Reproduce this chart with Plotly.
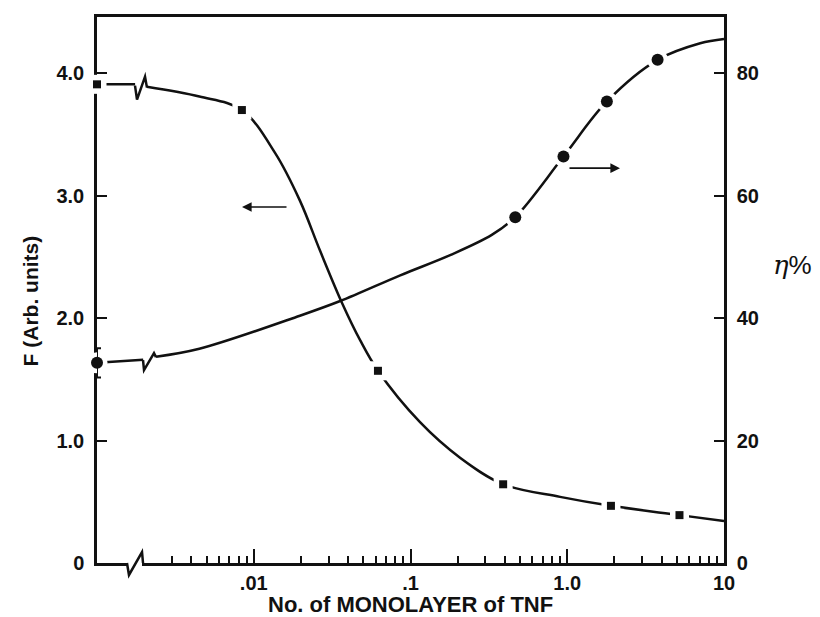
import plotly.graph_objects as go

# ---- data ----
# "0 monolayer" point is drawn at the broken origin of the log axis (0.001)
f_x = [0.001, 0.0084, 0.062, 0.39, 1.9, 5.2]
f_y = [3.91, 3.70, 1.57, 0.643, 0.467, 0.391]

eta_x = [0.001, 0.466, 0.946, 1.79, 3.77]
eta_y = [32.7, 56.5, 66.4, 75.4, 82.2]
eta_err = [2.4, 0, 0, 0, 0]

# hand-drawn guide curves as they appear in the figure
f_lead_x = [0.001, 0.00175]
f_lead_y = [3.91, 3.91]
f_curve_x = [0.00208, 0.0045, 0.0084, 0.01367, 0.0197, 0.0265, 0.0367, 0.0477, 0.062,
             0.115, 0.207, 0.39, 0.90, 1.9, 5.2, 10]
f_curve_y = [3.89, 3.81, 3.70, 3.35, 2.96, 2.55, 2.12, 1.82, 1.57,
             1.15, 0.86, 0.643, 0.54, 0.467, 0.391, 0.342]

eta_lead_x = [0.001, 0.00197]
eta_lead_y = [32.7, 33.2]
eta_curve_x = [0.00238, 0.0045, 0.0197, 0.0356, 0.086, 0.179, 0.33,
               0.466, 0.946, 1.79, 3.77, 7.05, 10]
eta_curve_y = [33.7, 35.0, 40.4, 42.8, 47.0, 50.3, 53.6,
               56.5, 66.4, 75.4, 82.2, 84.9, 85.6]

x_major = [0.01, 0.1, 1, 10]
x_major_text = [".01", ".1", "1.0", "10"]
x_minor = ([k * 0.001 for k in range(3, 10)] + [k * 0.01 for k in range(2, 10)] +
           [k * 0.1 for k in range(2, 10)] + [k * 1.0 for k in range(2, 10)])
f_ticks = [0, 1, 2, 3, 4]
f_ticktext = ["0", "1.0", "2.0", "3.0", "4.0"]
eta_ticks = [0, 20, 40, 60, 80]

FONT = "Liberation Sans, Arial, sans-serif"
BLACK = "#111111"

# page has an 8px body margin; plot-area geometry in window pixels
OFF = 8
WIN_W, WIN_H = 820, 617
L, R, T, B = 97, 724, 14, 563
def px(x):
    return (x - L) / (R - L)
def py(y):
    return (B - y) / (B - T)

fig = go.Figure()

# curves
fig.add_trace(go.Scatter(x=f_lead_x, y=f_lead_y, mode="lines",
                         line=dict(color=BLACK, width=2.5), cliponaxis=False, showlegend=False))
fig.add_trace(go.Scatter(x=f_curve_x, y=f_curve_y, mode="lines",
                         line=dict(color=BLACK, width=2.5, shape="spline"), showlegend=False))
fig.add_trace(go.Scatter(x=eta_lead_x, y=eta_lead_y, mode="lines", yaxis="y2",
                         line=dict(color=BLACK, width=2.5), cliponaxis=False, showlegend=False))
fig.add_trace(go.Scatter(x=eta_curve_x, y=eta_curve_y, mode="lines", yaxis="y2",
                         line=dict(color=BLACK, width=2.5, shape="spline"), showlegend=False))

# white halos around markers
fig.add_trace(go.Scatter(x=f_x, y=f_y, mode="markers", cliponaxis=False, showlegend=False,
                         marker=dict(symbol="square", size=19, color="white")))
fig.add_trace(go.Scatter(x=eta_x, y=eta_y, mode="markers", yaxis="y2", cliponaxis=False,
                         showlegend=False,
                         error_y=dict(type="data", array=[e * 1.35 for e in eta_err],
                                      color="white", thickness=8, width=0),
                         marker=dict(symbol="circle", size=21, color="white")))

# markers
fig.add_trace(go.Scatter(x=f_x, y=f_y, mode="markers", cliponaxis=False, showlegend=False,
                         marker=dict(symbol="square", size=8, color=BLACK)))
fig.add_trace(go.Scatter(x=eta_x, y=eta_y, mode="markers", yaxis="y2", cliponaxis=False,
                         showlegend=False,
                         error_y=dict(type="data", array=eta_err, color=BLACK,
                                      thickness=2, width=4),
                         marker=dict(symbol="circle", size=12, color=BLACK)))

def zig(points):
    return "M " + " L ".join(f"{px(a):.4f},{py(b):.4f}" for a, b in points)

shapes = [
    # gap in bottom axis for the break
    dict(type="rect", xref="paper", yref="paper", x0=px(128), x1=px(142),
         y0=py(567), y1=py(559), fillcolor="white", line=dict(width=0), layer="above"),
    dict(type="path", xref="paper", yref="paper", layer="above",
         path=zig([(127, 563), (129, 575), (142, 552), (143, 563)]),
         line=dict(color=BLACK, width=2.5)),
    dict(type="path", xref="paper", yref="paper", layer="above",
         path=zig([(135, 83), (137, 97), (145, 74), (147, 85)]),
         line=dict(color=BLACK, width=2.5)),
    dict(type="path", xref="paper", yref="paper", layer="above",
         path=zig([(143, 359), (144, 369), (154, 352), (156, 356)]),
         line=dict(color=BLACK, width=2.5)),
]

annotations = [
    dict(xref="paper", yref="paper", x=px(242), y=py(205), ax=46, ay=0,
         showarrow=True, arrowhead=2, arrowsize=1.2, arrowwidth=1.6, arrowcolor=BLACK, text=""),
    dict(xref="paper", yref="paper", x=px(620), y=py(166), ax=-52, ay=0,
         showarrow=True, arrowhead=2, arrowsize=1.2, arrowwidth=1.6, arrowcolor=BLACK, text=""),
    dict(xref="paper", yref="paper", x=px(410), y=py(605), showarrow=False,
         text="<b>No. of MONOLAYER of TNF</b>", xanchor="center", yanchor="middle",
         font=dict(family=FONT, size=22, color=BLACK)),
    dict(xref="paper", yref="paper", x=px(30), y=py(300), showarrow=False, textangle=-90,
         text="<b>F (Arb. units)</b>", xanchor="center", yanchor="middle",
         font=dict(family=FONT, size=21, color=BLACK)),
    dict(xref="paper", yref="paper", x=px(792), y=py(263), showarrow=False,
         text="<i>η</i><span style='font-family:Liberation Sans'>%</span>",
         xanchor="center", yanchor="middle",
         font=dict(family="DejaVu Serif, serif", size=26, color=BLACK)),
]

axis_common = dict(showline=True, linewidth=2.5, linecolor=BLACK, ticks="inside",
                   tickwidth=2, tickcolor=BLACK, showgrid=False, zeroline=False,
                   layer="below traces",
                   tickfont=dict(family=FONT, size=20, color=BLACK, weight="bold"))

fig.update_layout(
    width=WIN_W - OFF, height=WIN_H - OFF,
    margin=dict(l=L - OFF, r=WIN_W - R, t=T - OFF, b=WIN_H - B),
    paper_bgcolor="white", plot_bgcolor="white",
    showlegend=False,
    xaxis=dict(type="log", range=[-3, 1], tickmode="array", tickvals=x_major,
               ticktext=x_major_text, ticklen=14, mirror=True,
               minor=dict(tickmode="array", tickvals=x_minor, ticks="inside",
                          ticklen=7, tickwidth=1.5, tickcolor=BLACK),
               **axis_common),
    yaxis=dict(range=[0, 4.46], tickmode="array", tickvals=f_ticks, ticktext=f_ticktext,
               ticklen=10, ticklabelstandoff=6, **axis_common),
    yaxis2=dict(range=[0, 89.2], overlaying="y", side="right", tickmode="array",
                tickvals=eta_ticks, ticklen=10, ticklabelstandoff=6, **axis_common),
    shapes=shapes,
    annotations=annotations,
)

fig.write_html("out.html")
